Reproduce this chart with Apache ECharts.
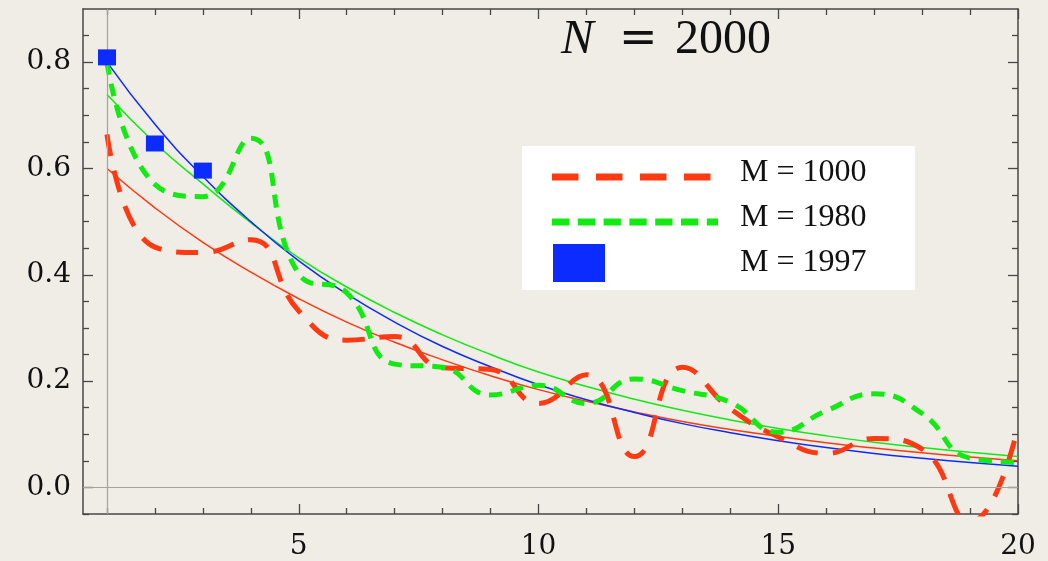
<!DOCTYPE html>
<html>
<head>
<meta charset="utf-8">
<title>N = 2000</title>
<script src="https://cdn.jsdelivr.net/npm/echarts@6/dist/echarts.min.js"></script>
<style>
  html, body { margin: 0; padding: 0; background: #f0ede6; }
  #chart { width: 1048px; height: 561px; }
</style>
</head>
<body>
<div id="chart"></div>
<script>
// k = 1 .. 20
const xs = [1, 2, 3, 4, 5, 6, 7, 8, 9, 10, 11, 12, 13, 14, 15, 16, 17, 18, 19, 20];

// measured curves
const m1000 = [0.664, 0.452, 0.442, 0.466, 0.332, 0.277, 0.284, 0.225, 0.222, 0.158,
               0.212, 0.058, 0.226, 0.148, 0.095, 0.064, 0.092, 0.072, -0.065, 0.114];
const m1980 = [0.800, 0.570, 0.547, 0.657, 0.402, 0.366, 0.232, 0.226, 0.174, 0.192,
               0.158, 0.204, 0.182, 0.160, 0.104, 0.144, 0.176, 0.139, 0.055, 0.047];
const m1997x = [1, 2, 3];
const m1997 = [0.809, 0.647, 0.596];

// fitted decays
const fit1000 = [0.600, 0.526, 0.461, 0.405, 0.355, 0.311, 0.273, 0.240, 0.210, 0.184,
                 0.162, 0.142, 0.124, 0.109, 0.096, 0.084, 0.074, 0.065, 0.057, 0.050];
const fit1980 = [0.739, 0.648, 0.571, 0.498, 0.432, 0.377, 0.329, 0.287, 0.250, 0.217,
                 0.190, 0.166, 0.145, 0.127, 0.111, 0.097, 0.085, 0.075, 0.066, 0.058];
const fit1997 = [0.800, 0.683, 0.585, 0.500, 0.426, 0.364, 0.311, 0.265, 0.227, 0.193,
                 0.165, 0.141, 0.120, 0.103, 0.088, 0.075, 0.064, 0.055, 0.047, 0.040];

// tick values
const xMajorTicks = [5, 10, 15, 20];
const xMinorTicks = [1, 2, 3, 4, 6, 7, 8, 9, 11, 12, 13, 14, 16, 17, 18, 19];
const yMajorTicks = [0, 0.2, 0.4, 0.6, 0.8];
const yMinorTicks = [-0.05, 0.05, 0.1, 0.15, 0.25, 0.3, 0.35, 0.45, 0.5, 0.55, 0.65, 0.7, 0.75, 0.85];

const legendLabels = ['M = 1000', 'M = 1980', 'M = 1997'];
const titleText = ['N', '=', '2000'];

const RED = '#ff3a12';
const GREEN = '#12ea12';
const BLUE = '#0c2cff';
const FRAME = '#474747';
const LABEL_FONT = 'DejaVu Serif';
const TEXT_FONT = '"Liberation Serif", "Times New Roman", serif';

const pairs = (xv, yv) => xv.map((x, i) => [x, yv[i]]);

const X_RANGE = { min: 0.5, max: 20 };
const Y_RANGE = { min: -0.05, max: 0.9 };

function xAxisDef(position, ticks, len, withLine, withLabels) {
  return {
    type: 'value', position, ...X_RANGE,
    splitLine: { show: false },
    axisLine: { show: withLine, onZero: false, lineStyle: { color: FRAME, width: 1.5 } },
    axisTick: { show: true, inside: true, length: len, customValues: ticks,
                lineStyle: { color: FRAME, width: 1.3 } },
    axisLabel: withLabels
      ? { show: true, customValues: ticks, margin: 19, color: '#111',
          fontFamily: LABEL_FONT, fontSize: 28, formatter: v => String(v) }
      : { show: false }
  };
}
function yAxisDef(position, ticks, len, withLine, withLabels) {
  return {
    type: 'value', position, ...Y_RANGE,
    splitLine: { show: false },
    axisLine: { show: withLine, onZero: false, lineStyle: { color: FRAME, width: 1.5 } },
    axisTick: { show: true, inside: true, length: len, customValues: ticks,
                lineStyle: { color: FRAME, width: 1.3 } },
    axisLabel: withLabels
      ? { show: true, customValues: ticks, margin: 12, color: '#111',
          fontFamily: LABEL_FONT, fontSize: 28, formatter: v => v.toFixed(1) }
      : { show: false }
  };
}

const chart = echarts.init(document.getElementById('chart'), null, { renderer: 'canvas' });

const fitLine = (data, color) => ({
  type: 'line', data, smooth: true, symbol: 'none', z: 3, silent: true,
  lineStyle: { color, width: 1.5 }
});
const dashLine = (data, color, dash) => ({
  type: 'line', data, smooth: 0.5, symbol: 'none', z: 4, silent: true,
  lineStyle: { color, width: 5, type: dash, cap: 'butt' }
});
const legendText = (y, text) => ({
  type: 'text', z: 11, x: 740, y,
  style: { text, fill: '#111', font: '32px ' + TEXT_FONT, verticalAlign: 'middle' }
});

chart.setOption({
  animation: false,
  backgroundColor: '#f0ede6',
  grid: { left: 83, right: 30, top: 9, bottom: 45, containLabel: false },
  xAxis: [
    xAxisDef('bottom', xMajorTicks, 10, true, true),
    xAxisDef('bottom', xMinorTicks, 6, false, false),
    xAxisDef('top', xMajorTicks, 10, true, false),
    xAxisDef('top', xMinorTicks, 6, false, false)
  ],
  yAxis: [
    yAxisDef('left', yMajorTicks, 10, true, true),
    yAxisDef('left', yMinorTicks, 6, false, false),
    yAxisDef('right', yMajorTicks, 10, true, false),
    yAxisDef('right', yMinorTicks, 6, false, false)
  ],
  series: [
    {
      type: 'line', data: [], symbol: 'none', z: 1, silent: true,
      markLine: {
        silent: true, symbol: ['none', 'none'], label: { show: false },
        lineStyle: { color: '#a3a3a3', width: 1.2, type: 'solid' },
        emphasis: { disabled: true },
        data: [{ xAxis: 1 }, { yAxis: 0 }]
      }
    },
    fitLine(pairs(xs, fit1000), RED),
    fitLine(pairs(xs, fit1980), GREEN),
    fitLine(pairs(xs, fit1997), BLUE),
    dashLine(pairs(xs, m1000), RED, [22, 15]),
    dashLine(pairs(xs, m1980), GREEN, [13, 9]),
    {
      type: 'scatter', data: pairs(m1997x, m1997), symbol: 'rect', symbolSize: [18, 16],
      z: 5, silent: true, itemStyle: { color: BLUE, opacity: 1 }
    }
  ],
  graphic: [
    // heading
    { type: 'text', z: 11, x: 561, y: 40,
      style: { text: titleText[0], fill: '#111', font: 'italic 49px ' + TEXT_FONT, verticalAlign: 'middle' } },
    { type: 'text', z: 11, x: 619, y: 40,
      style: { text: titleText[1], fill: '#111', font: '46px "DejaVu Serif"', verticalAlign: 'middle' } },
    { type: 'text', z: 11, x: 675, y: 40,
      style: { text: titleText[2], fill: '#111', font: '48px ' + TEXT_FONT, verticalAlign: 'middle' } },
    // legend box
    { type: 'rect', left: 522, top: 146, z: 10, shape: { width: 393, height: 144 }, style: { fill: '#ffffff' } },
    { type: 'line', z: 11, shape: { x1: 552, y1: 177, x2: 712, y2: 177 },
      style: { stroke: RED, lineWidth: 7, lineDash: [26.5, 17.5] } },
    { type: 'line', z: 11, shape: { x1: 552, y1: 222, x2: 718, y2: 222 },
      style: { stroke: GREEN, lineWidth: 7, lineDash: [17.3, 8.5] } },
    { type: 'rect', z: 11, shape: { x: 553, y: 244, width: 52, height: 38 }, style: { fill: BLUE } },
    legendText(173, legendLabels[0]),
    legendText(218, legendLabels[1]),
    legendText(263, legendLabels[2])
  ]
});
</script>
</body>
</html>
